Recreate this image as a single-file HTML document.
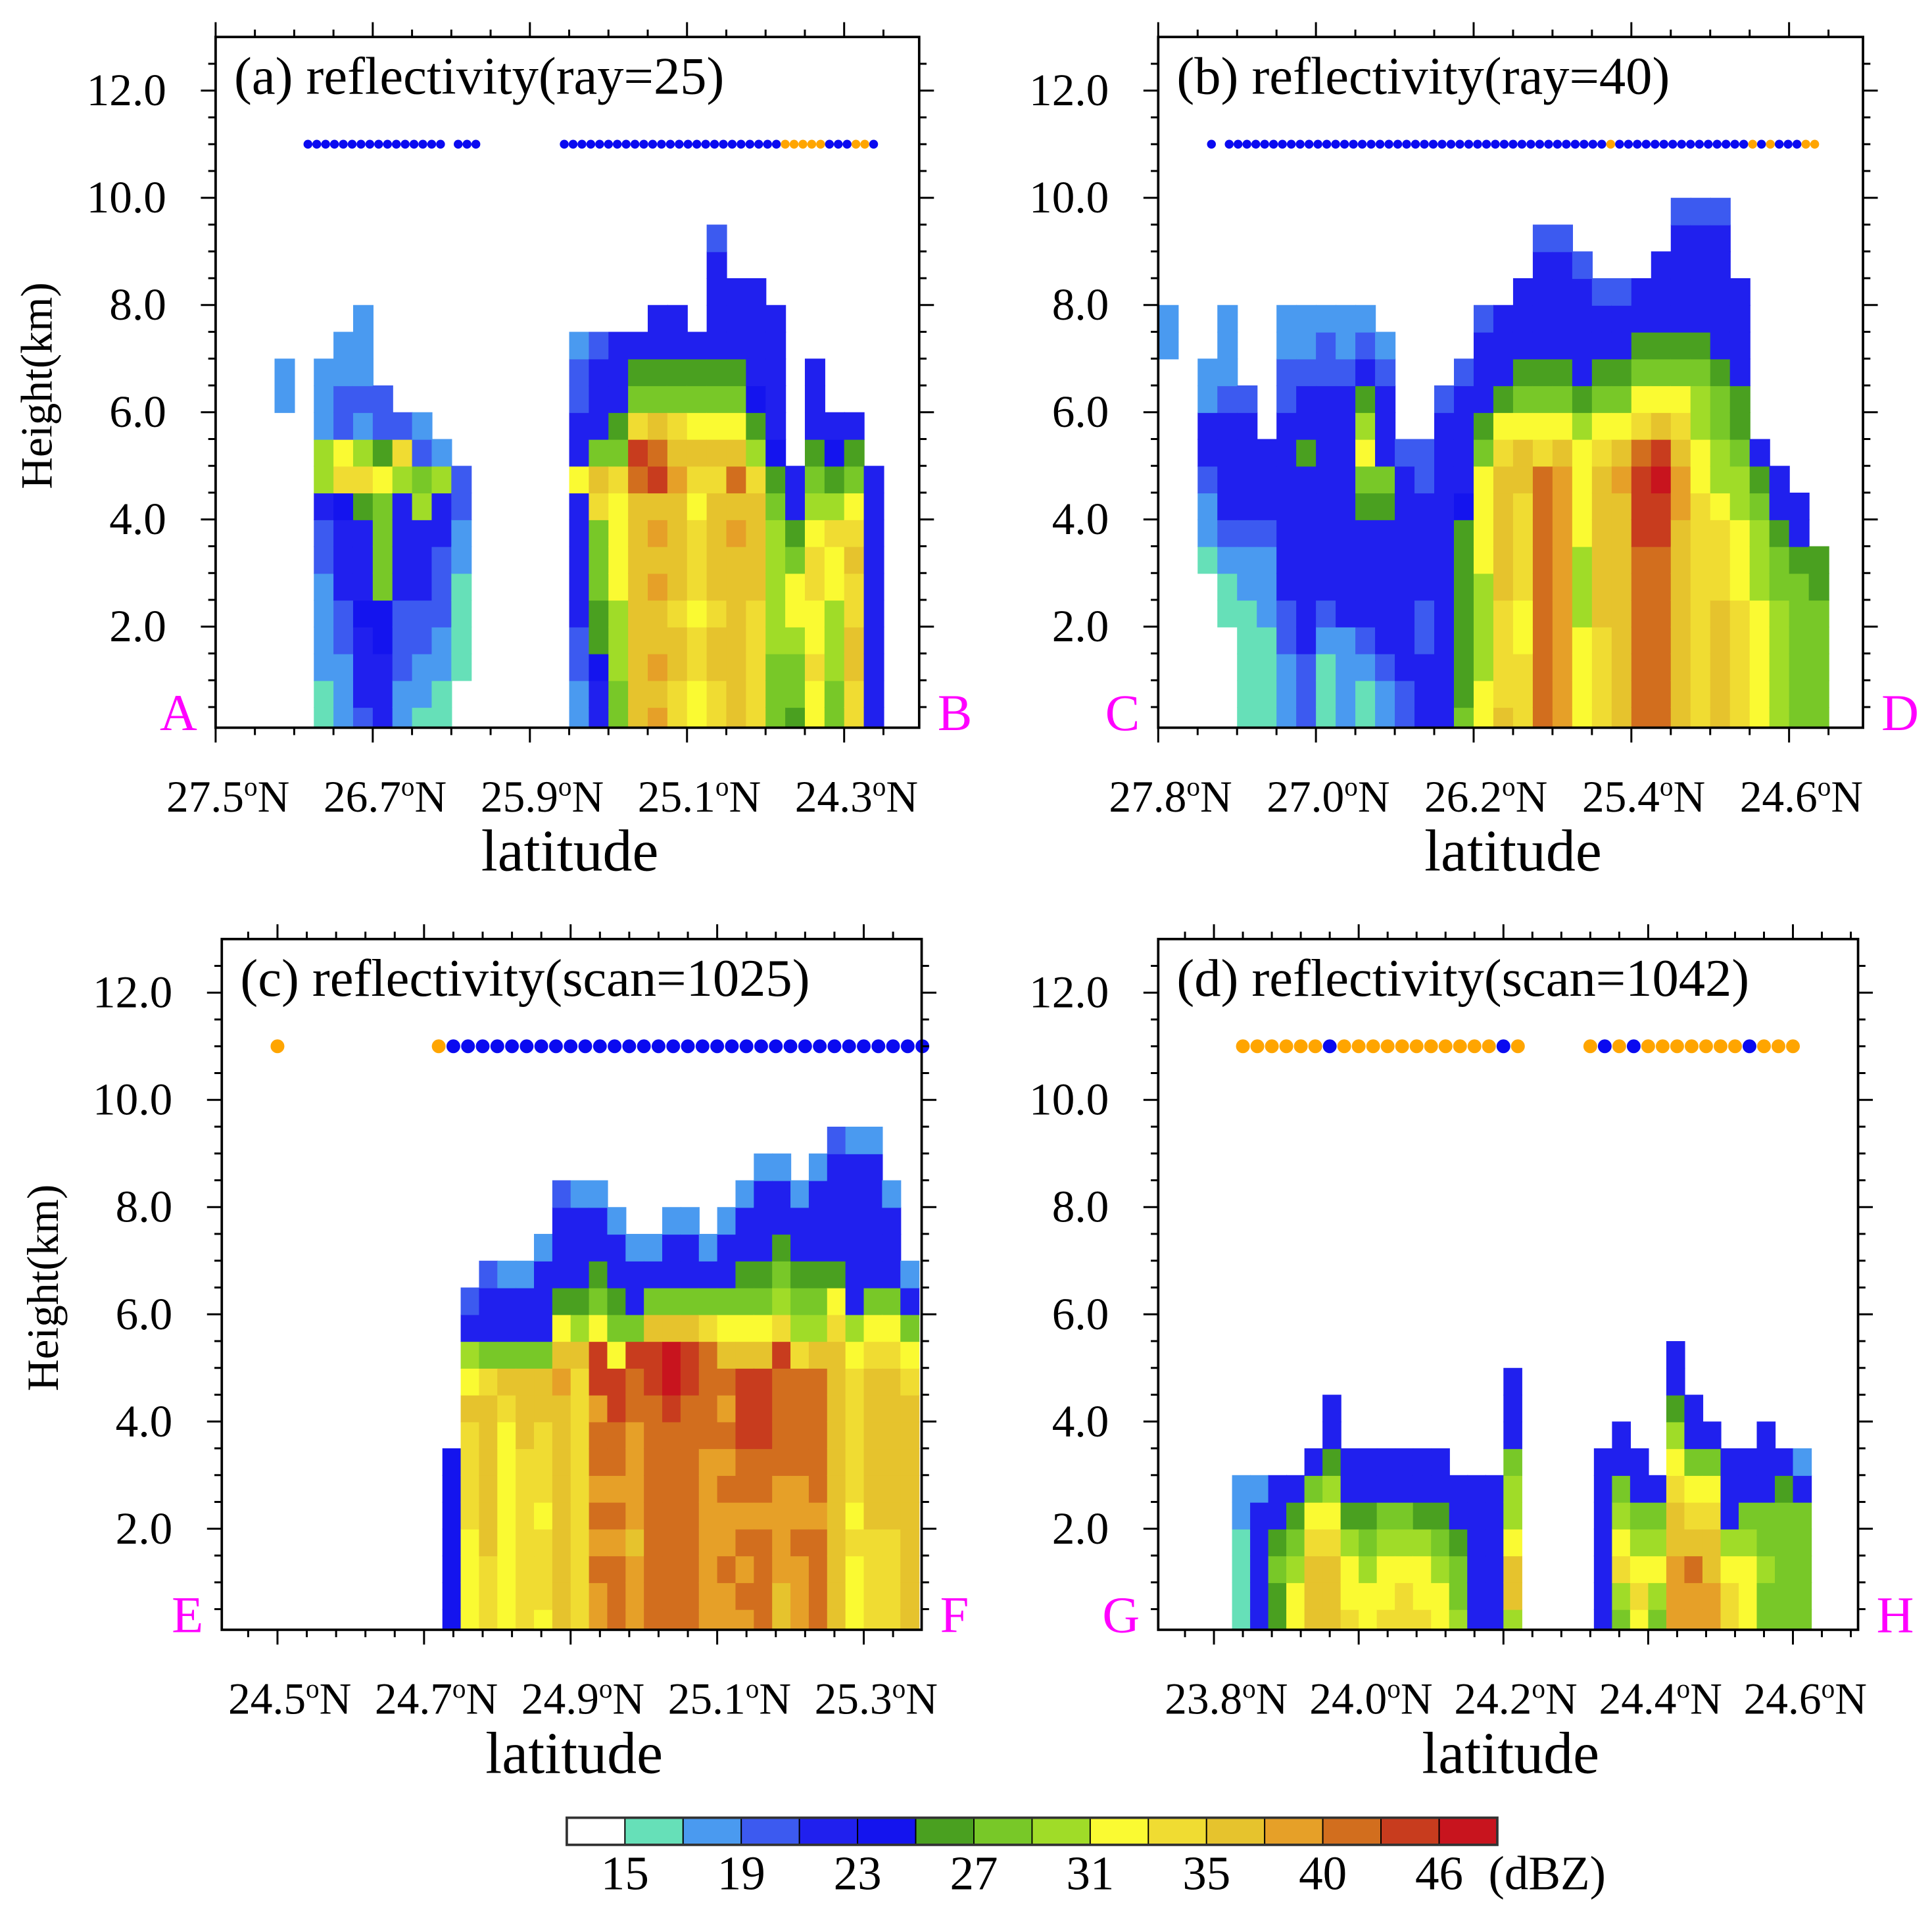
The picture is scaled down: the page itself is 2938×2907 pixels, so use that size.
<!DOCTYPE html>
<html><head><meta charset="utf-8"><title>Reflectivity cross sections</title>
<style>
html,body{margin:0;padding:0;background:#fff;}
svg{display:block;font-family:"Liberation Serif","DejaVu Serif",serif;}
</style></head>
<body>
<svg id="fig" xmlns="http://www.w3.org/2000/svg" width="2938" height="2907" viewBox="0 0 1568 1551.5" preserveAspectRatio="none"></svg>
<script>
// ---------- DATA ----------
const levelColors = ['#ffffff','#66e0b8','#4a9af0','#3c5af0','#2020ee','#1414ee','#4aa020','#78c828','#a0dc28','#fafa32','#f0dc32','#e6c32d','#e6a028','#d26e1e','#c83c1e','#c8141e'];
const cbarLabels = ['15','19','23','27','31','35','40','46'];
const yTickValues = [2,4,6,8,10,12];
const yTickLabels = ['2.0','4.0','6.0','8.0','10.0','12.0'];

const aTicks = [27.5,26.7,25.9,25.1,24.3];
const aTickLabels = ['27.5','26.7','25.9','25.1','24.3'];
const bTicks = [27.8,27.0,26.2,25.4,24.6];
const bTickLabels = ['27.8','27.0','26.2','25.4','24.6'];
const cTicks = [24.5,24.7,24.9,25.1,25.3];
const cTickLabels = ['24.5','24.7','24.9','25.1','25.3'];
const dTicks = [23.8,24.0,24.2,24.4,24.6];
const dTickLabels = ['23.8','24.0','24.2','24.4','24.6'];

// column strings: bottom -> top, each char = 0.5 km layer, hex = colour level, '.' = no echo
const aCols = ['','','','............22','',
'11222233488222','222334445a93322','344454446a823222','4445577779633','2233344448a3',
'122334448732','11223334482','..11112233','','','','','',
'223344444944332','44566777ab74443','778889999a76444','bbbbbbbbbdea764','cbcbbcbcbedb7644',
'aabbabbbbcba7644','99aa9aaa9ab9764','aabbabbbbab97644443','bbbbbbbcbdb976444','aaaaabbbba8654444',
'7778888876544444','6778997644','99a99aa9876444','7788899a8654','aabbaaba9764','4444444444','',''];
const bCols = ['..............22','','......12234422','....112344443222','1111122344443',
'11112223444','2223344444443322','3334444444644322','1112344444444332','2222444444444322',
'1123444467986432','223444446744432','33444444443','44433444433','4444444444443',
'76666666544443','9988889999764443','baaaabbbbba96444','aaa99aaaabb976444','dddddddddda97644443',
'ccccccccccb97644443','999988899998644443','aaaabbbbbba976443','bbbbbbbbbcb976443','dddddddeeeda97644',
'dddddddeefeb976444','bbbbbbbbccba97644443','aaaaaaaaa99887644443','bbbbbaaa988776444443','aaaaa999887664444',
'99999888764','8888877644','777777644','7777766','',''];
const cCols = ['','','','','','','','','','','','',
'5555555','9999aaaab9843','aaabbbbbba7443','99999999ab7442','aaaaaaabbb7442',
'9aaa9aaabb74442','bbbbbbbbbcb964443','aaaaaaaaaab864442','ccdcdcddcee976442','dddcdcddee976442',
'cccbccccdde7442','dddddddddeeb742','ddddddddeffb7442','dddddddddeeb7442','cccccccdddda742',
'ccdccdcdcdb97442','cdcdcddeeeb976442','ddddcddeeeb9764442','bbccccddddea876442','cccdccdddda876442',
'ddddcdddddb8764442','bbbbbbbbbbba9644443','999a9aaaaa984444442','aaaabbbbbba97444442','aaaabbbbbba974442',
'bbbbbbbbba9742'];
const dCols = ['','','','','111122','444442','667644','998764','bbba974','bbba98644',
'a998644','9987644','a998744','aa98744','a998644','9987644','877644','444444','444444','8bb9887444',
'','','','','4444444','78a98744','9a98744','789874','cccbba98644','ccdba9744',
'ccbba974','aa98444','9998744','77877444','7777764','7777742'];

// dots at 11 km: b = blue, o = orange, '.' = none
const aDots = 'bbbbbbbbbbbbbbbb'+'.'+'bbb'+'.........'+'bbbbbbbbbbbbbbbbbbbbbbbbb'+'ooooo'+'bbb'+'oo'+'b';
const bDots = 'b'+'.'+'bbbbbbbbbbbbbbbbbbbbbbbbbbbbbbbbbbbbbbbbbbb'+'o'+'bbbbbbbbbbbbbbb'+'o'+'b'+'o'+'bbb'+'oo';
const cDots = 'o'+'..........'+'o'+'bbbbbbbbbbbbbbbbbbbbbbbbbbbbbbbbb';
const dDots = 'oooooo'+'b'+'ooooooooooo'+'b'+'o'+'....'+'o'+'b'+'o'+'b'+'ooooooo'+'b'+'ooo';

// ---------- LAYOUT ----------
const NS='http://www.w3.org/2000/svg';
const svg=document.getElementById('fig');
function mk(tag,attrs,parent){const e=document.createElementNS(NS,tag);for(const k in attrs)e.setAttribute(k,attrs[k]);(parent||svg).appendChild(e);return e;}

const H0=0.115,H1=13,PXKM=43.5;
const panels=[
 {id:'a',x0:175,x1:746,y0:30,latL:27.5,latR:23.918,cols:aCols,cLat0:27.5,cStep:-0.1,dots:aDots,dLat0:27.03,dStep:-0.045,dotR:3.6,
  ticks:aTicks,tickLabels:aTickLabels,minor:0.2,title:'(a) reflectivity(ray=25)',letters:['A','B'],ylab:true,ytx:135},
 {id:'b',x0:940,x1:1512,y0:30,latL:27.8,latR:24.225,cols:bCols,cLat0:27.8,cStep:-0.1,dots:bDots,dLat0:27.53,dStep:-0.045,dotR:3.6,
  ticks:bTicks,tickLabels:bTickLabels,minor:0.2,title:'(b) reflectivity(ray=40)',letters:['C','D'],ylab:false,ytx:900},
 {id:'c',x0:180,x1:748,y0:762,latL:24.424,latR:25.379,cols:cCols,cLat0:24.425,cStep:0.025,dots:cDots,dLat0:24.5,dStep:0.02,dotR:5.6,
  ticks:cTicks,tickLabels:cTickLabels,minor:0.04,title:'(c) reflectivity(scan=1025)',letters:['E','F'],ylab:true,ytx:140},
 {id:'d',x0:940,x1:1508,y0:762,latL:23.723,latR:24.69,cols:dCols,cLat0:23.725,cStep:0.025,dots:dDots,dLat0:23.84,dStep:0.02,dotR:5.6,
  ticks:dTicks,tickLabels:dTickLabels,minor:0.04,title:'(d) reflectivity(scan=1042)',letters:['G','H'],ylab:false,ytx:900}
];

panels.forEach(p=>{
  const yB=p.y0+(H1-H0)*PXKM;
  const X=lat=>p.x0+(lat-p.latL)/(p.latR-p.latL)*(p.x1-p.x0);
  const Y=h=>yB-(h-H0)*PXKM;
  const g=mk('g',{});
  
  
  const cp=mk('clipPath',{id:'clip'+p.id},g);
  mk('rect',{x:p.x0,y:p.y0,width:p.x1-p.x0,height:yB-p.y0},cp);
  const field=mk('g',{'clip-path':'url(#clip'+p.id+')'},g);
  
  
  p.cols.forEach((s,i)=>{
    const la=p.cLat0+i*p.cStep, lb=p.cLat0+(i+1)*p.cStep;
    const xa=Math.min(X(la),X(lb)), xb=Math.max(X(la),X(lb));
    for(let r=0;r<s.length;r++){
      const ch=s[r]; if(ch==='.'||ch===' ')continue;
      const lv=parseInt(ch,16);
      const ya=Y((r+1)*0.5), yb=Y(r*0.5);
      const c=mk('rect',{x:xa,y:ya,width:xb-xa+0.6,height:yb-ya+0.6,fill:levelColors[lv]},field);
      
      
    }
  });
  for(let k=0;k<p.dots.length;k++){
    const f=p.dots[k]; if(f==='.')continue;
    const d=mk('circle',{cx:X(p.dLat0+k*p.dStep),cy:Y(11),r:p.dotR,fill:f==='b'?'#0a0af0':'#ffa500'},g);
    
    
  }
  const fr=mk('rect',{x:p.x0,y:p.y0,width:p.x1-p.x0,height:yB-p.y0,fill:'none',stroke:'#000','stroke-width':2},g);
  
  
  for(let h=0.5;h<=12.75;h+=0.5){
    const maj=Math.abs(h/2-Math.round(h/2))<1e-6, L=maj?12:6, y=Y(h);
    mk('line',{x1:p.x0-L,y1:y,x2:p.x0,y2:y,stroke:'#000','stroke-width':1.6},g);
    mk('line',{x1:p.x1,y1:y,x2:p.x1+L,y2:y,stroke:'#000','stroke-width':1.6},g);
  }
  yTickValues.forEach((v,i)=>{
    const t=mk('text',{x:p.ytx,y:Y(v)+12,'text-anchor':'end','font-size':37,fill:'#000'},g);
    t.textContent=yTickLabels[i];
    
    
  });
  const lo=Math.min(p.latL,p.latR), hi=Math.max(p.latL,p.latR);
  const start=p.ticks[0]-Math.floor((p.ticks[0]-lo)/p.minor+1e-6)*p.minor;
  for(let v=start; v<=hi+1e-6; v+=p.minor){
    const maj=p.ticks.some(t=>Math.abs(t-v)<1e-6), L=maj?12:6, x=X(v);
    mk('line',{x1:x,y1:yB,x2:x,y2:yB+L,stroke:'#000','stroke-width':1.6},g);
    mk('line',{x1:x,y1:p.y0-L,x2:x,y2:p.y0,stroke:'#000','stroke-width':1.6},g);
  }
  p.ticks.forEach((v,i)=>{
    const t=mk('text',{x:X(v)+10,y:yB+68,'text-anchor':'middle','font-size':36,fill:'#000'},g);
    t.textContent=p.tickLabels[i];
    const sup=mk('tspan',{'font-size':22,dy:-13},t); sup.textContent='o';
    const n=mk('tspan',{dy:13},t); n.textContent='N';
    
    
  });
  const xl=mk('text',{x:(p.x0+p.x1)/2+2,y:yB+116,'text-anchor':'middle','font-size':48,fill:'#000'},g);
  xl.textContent='latitude';
  
  
  if(p.ylab){
    const yl=mk('text',{x:0,y:0,'text-anchor':'middle','font-size':36,fill:'#000',transform:'translate('+(p.x0-133)+','+(p.y0+283)+') rotate(-90)'},g);
    yl.textContent='Height(km)';
    
    
  }
  const ti=mk('text',{x:p.x0+15,y:p.y0+46,'font-size':43,fill:'#000'},g);
  ti.textContent=p.title;
  
  
  const la=mk('text',{x:p.x0-15,y:yB+2,'text-anchor':'end','font-size':42,fill:'#ff00ff'},g);
  la.textContent=p.letters[0];
  
  
  const lb=mk('text',{x:p.x1+15,y:yB+2,'text-anchor':'start','font-size':42,fill:'#ff00ff'},g);
  lb.textContent=p.letters[1];
  
  
});

const cb=mk('g',{});


const CBX=460, CBW=47.2, CBY=1475, CBH=22;
levelColors.forEach((c,i)=>{
  const r=mk('rect',{x:CBX+i*CBW,y:CBY,width:CBW,height:CBH,fill:c,stroke:'#000','stroke-width':1},cb);
  
  
});
mk('rect',{x:CBX,y:CBY,width:CBW*levelColors.length,height:CBH,fill:'none',stroke:'#333','stroke-width':2},cb);
cbarLabels.forEach((l,i)=>{
  const t=mk('text',{x:CBX+(2*i+1)*CBW,y:1533,'text-anchor':'middle','font-size':39,fill:'#000'},cb);
  t.textContent=l;
  
  
});
const un=mk('text',{x:1208,y:1533,'font-size':39,fill:'#000'},cb);
un.textContent='(dBZ)';


</script>
</body></html>
